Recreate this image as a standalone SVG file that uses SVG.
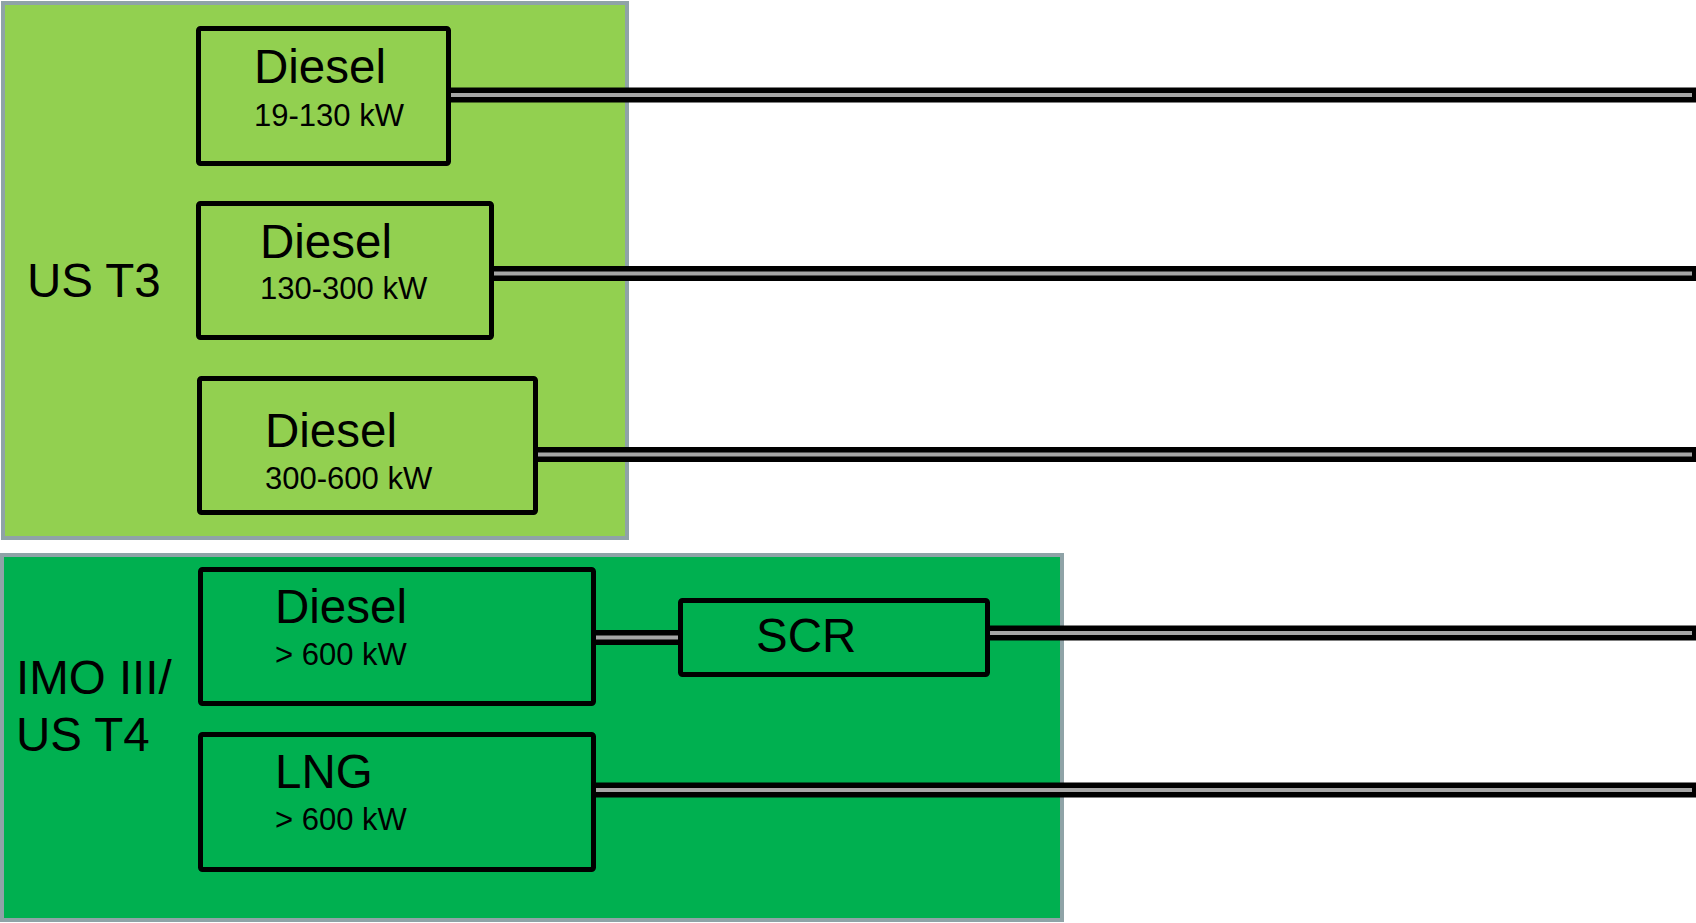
<svg xmlns="http://www.w3.org/2000/svg" width="1696" height="923" viewBox="0 0 1696 923">
<defs>
<style>
.grp1{fill:#92D050;stroke:#8FA3A7;stroke-width:4}
.grp2{fill:#00B050;stroke:#8FA3A7;stroke-width:4}
.box1{fill:#92D050;stroke:#000;stroke-width:5}
.box2{fill:#00B050;stroke:#000;stroke-width:5}
.pipeo{stroke:#000;stroke-width:15;fill:none}
.pipei{stroke:#A6A6A6;stroke-width:4;fill:none}
.big{font-family:"Liberation Sans",Arial,sans-serif;font-size:47.5px;fill:#000}
.small{font-family:"Liberation Sans",Arial,sans-serif;font-size:31px;fill:#000}
</style>
</defs>
<rect width="1696" height="923" fill="#fff"/>
<g id="group-ust3">
<rect class="grp1" x="3" y="3" width="624" height="535"/>
<text class="big" x="27" y="297">US T3</text>
</g>
<g id="group-imo3">
<rect class="grp2" x="2" y="555" width="1060" height="365"/>
<text class="big" x="16" y="694">IMO III/</text>
<text class="big" x="16" y="751">US T4</text>
</g>
<g id="connectors">
<line class="pipeo" x1="449" y1="95" x2="1696" y2="95"/>
<line class="pipei" x1="449" y1="95" x2="1692" y2="95"/>
<line class="pipeo" x1="492" y1="273.5" x2="1696" y2="273.5"/>
<line class="pipei" x1="492" y1="273.5" x2="1692" y2="273.5"/>
<line class="pipeo" x1="535" y1="454.5" x2="1696" y2="454.5"/>
<line class="pipei" x1="535" y1="454.5" x2="1692" y2="454.5"/>
<line class="pipeo" x1="594" y1="637.5" x2="681" y2="637.5"/>
<line class="pipei" x1="594" y1="637.5" x2="681" y2="637.5"/>
<line class="pipeo" x1="988" y1="633" x2="1696" y2="633"/>
<line class="pipei" x1="988" y1="633" x2="1692" y2="633"/>
<line class="pipeo" x1="594" y1="790" x2="1696" y2="790"/>
<line class="pipei" x1="594" y1="790" x2="1692" y2="790"/>
</g>
<g id="diesel-19-130">
<rect class="box1" x="198.5" y="28.5" width="250" height="135" rx="2"/>
<text class="big" x="254" y="83">Diesel</text>
<text class="small" x="254" y="126">19-130 kW</text>
</g>
<g id="diesel-130-300">
<rect class="box1" x="198.5" y="203.5" width="293" height="134" rx="2"/>
<text class="big" x="260" y="258">Diesel</text>
<text class="small" x="260" y="299">130-300 kW</text>
</g>
<g id="diesel-300-600">
<rect class="box1" x="199.5" y="378.5" width="336" height="134" rx="2"/>
<text class="big" x="265" y="447">Diesel</text>
<text class="small" x="265" y="489">300-600 kW</text>
</g>
<g id="diesel-600">
<rect class="box2" x="200.5" y="569.5" width="393" height="134" rx="2"/>
<text class="big" x="275" y="623">Diesel</text>
<text class="small" x="275" y="665">&gt; 600 kW</text>
</g>
<g id="scr">
<rect class="box2" x="680.5" y="600.5" width="307" height="74" rx="2"/>
<text class="big" x="756" y="652">SCR</text>
</g>
<g id="lng-600">
<rect class="box2" x="200.5" y="734.5" width="393" height="135" rx="2"/>
<text class="big" x="275" y="788">LNG</text>
<text class="small" x="275" y="830">&gt; 600 kW</text>
</g>
</svg>
